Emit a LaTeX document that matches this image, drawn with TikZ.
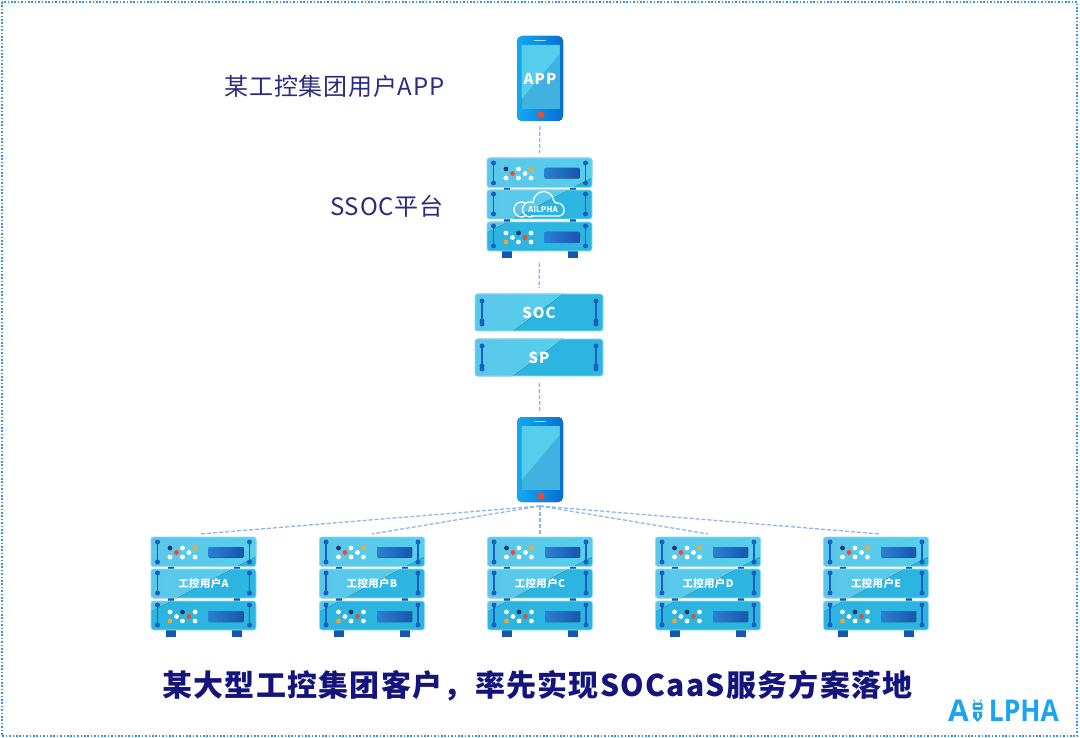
\documentclass[tikz,border=0pt]{standalone}
\usepackage{fontspec}
\setmainfont{Noto Sans CJK SC}
\newfontfamily\logofont{Open Sans}
\usepackage{xcolor}
\definecolor{navytext}{HTML}{2B2B7E}
\definecolor{titlenavy}{HTML}{14147C}
\definecolor{framedot}{HTML}{3F8FE6}
\definecolor{linkblue}{HTML}{8FB4EE}
\definecolor{unitlight}{HTML}{5BC6EA}
\definecolor{unitbright}{HTML}{55CFEC}
\definecolor{unitdeep}{HTML}{2BB5E0}
\definecolor{unitedge}{HTML}{93DDF3}
\definecolor{bolt}{HTML}{1760BE}
\definecolor{panelleft}{HTML}{2A80D2}
\definecolor{panelright}{HTML}{1A55B0}
\definecolor{foot}{HTML}{1557AC}
\definecolor{phoneleft}{HTML}{14A8F2}
\definecolor{phoneright}{HTML}{066FD0}
\definecolor{screenlight}{HTML}{56CDEC}
\definecolor{screendeep}{HTML}{41B2DF}
\definecolor{logoblue}{HTML}{1AA5EE}
\definecolor{ledred}{HTML}{EE4B2B}
\definecolor{ledorange}{HTML}{F5A623}
\definecolor{leddark}{HTML}{22386E}
\tikzset{
  link/.style={draw=linkblue,line width=1.3pt,dash pattern=on 4pt off 2pt},
  sidetext/.style={text=navytext,font=\fontsize{24}{28}\selectfont\addfontfeature{LetterSpace=3},inner sep=0pt},
  unitbase/.style={rounded corners=2.5pt,fill=unitdeep},
  unitline/.style={rounded corners=2.5pt,draw=unitedge,line width=0.8pt},
  boltline/.style={draw=bolt,line width=1.7pt},
  paneldisplay/.style={rounded corners=1pt,left color=panelleft,right color=panelright},
  anchorbox/.style={minimum width=#1,inner sep=0pt,outer sep=0pt},
  pics/boltpair/.style={code={
    \draw[boltline] (0,#1) -- (0,#1+20);
    \fill[bolt] (0,#1) circle (2.5pt);
    \fill[bolt] (0,#1+20) circle (2.5pt);
  }},
  pics/rack/.style={code={
    \node[anchorbox=105pt,minimum height=100pt] (-body) at (0,50) {};
    % feet and joints
    \fill[foot] (-38,92) rectangle (-28,100);
    \fill[foot] (28,92) rectangle (38,100);
    \fill[foot] (-36,29) rectangle (-30,33);
    \fill[foot] (30,29) rectangle (36,33);
    \fill[foot] (-36,61) rectangle (-30,65);
    \fill[foot] (30,61) rectangle (36,65);
    % three units
    \fill[unitbase] (-52.5,0) rectangle (52.5,29.5);
    \fill[unitbase] (-52.5,32) rectangle (52.5,61);
    \fill[unitbase] (-52.5,64) rectangle (52.5,93);
    \begin{scope}
      \clip[rounded corners=2.5pt] (-52.5,0) rectangle (52.5,29.5) (-52.5,32) rectangle (52.5,61) (-52.5,64) rectangle (52.5,93);
      \fill[left color=unitlight,right color=unitbright] (-60,0) -- (60,0) -- (60,15.5) -- (-60,78.6) -- cycle;
    \end{scope}
    \draw[unitline] (-52.5,0) rectangle (52.5,29.5);
    \draw[unitline] (-52.5,32) rectangle (52.5,61);
    \draw[unitline] (-52.5,64) rectangle (52.5,93);
    \pic at (-46,0) {boltpair=5};
    \pic at (46,0) {boltpair=5};
    \pic at (-46,0) {boltpair=36};
    \pic at (46,0) {boltpair=36};
    \pic at (-46,0) {boltpair=68};
    \pic at (46,0) {boltpair=68};
    % top unit lights
    \fill[paneldisplay] (5,10) rectangle (40,20.5);
    \fill[leddark] (-33.5,11) circle (2.4pt);
    \fill[ledred] (-27,15.5) circle (2.4pt);
    \fill[white] (-21,11) circle (2.4pt);
    \fill[white] (-14.5,15.5) circle (2.4pt);
    \fill[ledorange] (-8.5,11) circle (2.4pt);
    \fill[white] (-33.5,20) circle (2.4pt);
    \fill[white] (-21,20) circle (2.4pt);
    \fill[white] (-8.5,20) circle (2.4pt);
    % bottom unit lights
    \fill[paneldisplay] (5,74) rectangle (40,85);
    \fill[white] (-33.5,75) circle (2.4pt);
    \fill[white] (-27,79.5) circle (2.4pt);
    \fill[leddark] (-21,75) circle (2.4pt);
    \fill[ledred] (-14.5,79.5) circle (2.4pt);
    \fill[white] (-8.5,75) circle (2.4pt);
    \fill[ledorange] (-33.5,84) circle (2.4pt);
    \fill[white] (-21,84) circle (2.4pt);
    \fill[white] (-8.5,84) circle (2.4pt);
    \node[text=white,inner sep=0pt,font=\fontsize{10.5}{12}\bfseries\selectfont\addfontfeature{LetterSpace=3}] (-label) at (0,47) {#1};
  }},
  pics/slimunit/.style={code={
    \node[anchorbox=128pt,minimum height=37pt] (-body) at (0,18.5) {};
    \fill[unitbase] (-64,0) rectangle (64,37);
    \begin{scope}
      \clip[rounded corners=2.5pt] (-64,0) rectangle (64,37);
      \fill[left color=unitlight,right color=unitbright] (-70,0) -- (24,0) -- (-26,37) -- (-70,37) -- cycle;
    \end{scope}
    \draw[unitline] (-64,0) rectangle (64,37);
    \pic at (-57,0) {boltpair=7};
    \draw[boltline] (-57,27) -- (-57,30);
    \fill[bolt] (-57,30) circle (2.5pt);
    \pic at (57,0) {boltpair=7};
    \draw[boltline] (57,27) -- (57,30);
    \fill[bolt] (57,30) circle (2.5pt);
    \node[text=white,inner sep=0pt,font=\fontsize{15}{17}\bfseries\selectfont\addfontfeature{LetterSpace=7}] (-label) at (0,19) {#1};
  }},
  pics/phone/.style={code={
    \node[anchorbox=46pt,minimum height=85pt] (-body) at (0,42.5) {};
    \fill[rounded corners=5pt,left color=phoneleft,right color=phoneright] (-23,0) rectangle (23,85);
    \fill[screendeep] (-18.5,9) rectangle (19.5,73);
    \fill[screenlight] (-18.5,9) -- (19.5,9) -- (19.5,18) -- (-18.5,63) -- cycle;
    \draw[white!60!phoneleft,line width=0.8pt] (-6,4.5) -- (6,4.5);
    \fill[ledred] (1,79) circle (3.5pt);
    \node[text=white,inner sep=0pt,font=\fontsize{15}{17}\bfseries\selectfont\addfontfeature{LetterSpace=7}] (-label) at (0,43) {#1};
  }},
}
\begin{document}
\begin{tikzpicture}[x=1pt,y=-1pt]
  \useasboundingbox (0,0) rectangle (1080,738);
  \draw[framedot,line width=1.7pt,dash pattern=on 1.7pt off 1.7pt] (2,2) rectangle (1077,736);

  \node[sidetext,anchor=east] (apptext) at (444.5,86) {某工控集团用户APP};
  \node[sidetext,anchor=east] (ssoctext) at (443.5,206) {SSOC平台};

  \pic (appphone) at (540,36) {phone=APP};
  \pic (ssoc) at (539.5,158) {rack={}};
  \pic (soc) at (539,294) {slimunit=SOC};
  \pic (sp) at (539,339) {slimunit=SP};
  \pic (userphone) at (540,417) {phone={}};

  \pic (usera) at (203.5,537) {rack={工控用户A}};
  \pic (userb) at (372,537) {rack={工控用户B}};
  \pic (userc) at (540,537) {rack={工控用户C}};
  \pic (userd) at (708,537) {rack={工控用户D}};
  \pic (usere) at (876,537) {rack={工控用户E}};

  % cloud in the middle unit
  \draw[white,line width=1.3pt,rounded corners=3pt] (531,216) -- (556,216) .. controls (566,216) and (566,203) .. (554,203) .. controls (552,189) and (535,188) .. (533,202);
  \draw[white,line width=1.3pt] (525.25,203) arc (60:300:7.5pt);
  \draw[white,line width=1.3pt] (533.75,203) arc (60:300:7.5pt);
  \node[text=white,inner sep=0pt,font=\fontsize{8}{9}\bfseries\selectfont] (cloudtext) at (543,210) {AILPHA};

  \draw[link,shorten <=5pt,shorten >=5pt] (appphone-body.south) -- (ssoc-body.north);
  \draw[link,shorten <=5pt,shorten >=6pt] (ssoc-body.south) -- (soc-body.north);
  \draw[link,shorten <=7pt,shorten >=6pt] (sp-body.south) -- (userphone-body.north);

  \coordinate (fanhub) at (540,506);
  \coordinate (fana) at (200,534);
  \coordinate (fanb) at (372,534);
  \coordinate (fanc) at (540,534);
  \coordinate (fand) at (708,534);
  \coordinate (fane) at (880,534);
  \draw[link] (fanhub) -- (fana);
  \draw[link] (fanhub) -- (fanb);
  \draw[link] (fanhub) -- (fanc);
  \draw[link] (fanhub) -- (fand);
  \draw[link] (fanhub) -- (fane);

  \node[text=titlenavy,inner sep=0pt,font=\fontsize{30}{34}\bfseries\selectfont\addfontfeature{LetterSpace=4.3}] (titletext) at (537.5,686) {某大型工控集团客户，率先实现SOCaaS服务方案落地};

  % logo
  \node[text=logoblue,inner sep=0pt,anchor=west,font=\logofont\fontsize{30}{34}\bfseries\selectfont] (logoa) at (948,711) {A};
  \node[text=logoblue,inner sep=0pt,anchor=east,font=\logofont\fontsize{30}{34}\bfseries\selectfont] (logorest) at (1059,711) {\scalebox{0.88}[1]{LPHA}};
  \draw[logoblue,line width=0.9pt] (973.5,699.5) -- (975,702.5);
  \draw[logoblue,line width=0.9pt] (981.5,699.5) -- (980,702.5);
  \fill[logoblue,rounded corners=1.5pt] (972.5,702.5) rectangle (982.5,710);
  \fill[white] (974.5,705) rectangle (980.5,707);
  \fill[logoblue] (973,711.5) -- (982,711.5) -- (982,717) -- (977.5,722) -- (973,717) -- cycle;
  \fill[white] (976.5,713) rectangle (978.5,718);
\end{tikzpicture}
\end{document}
